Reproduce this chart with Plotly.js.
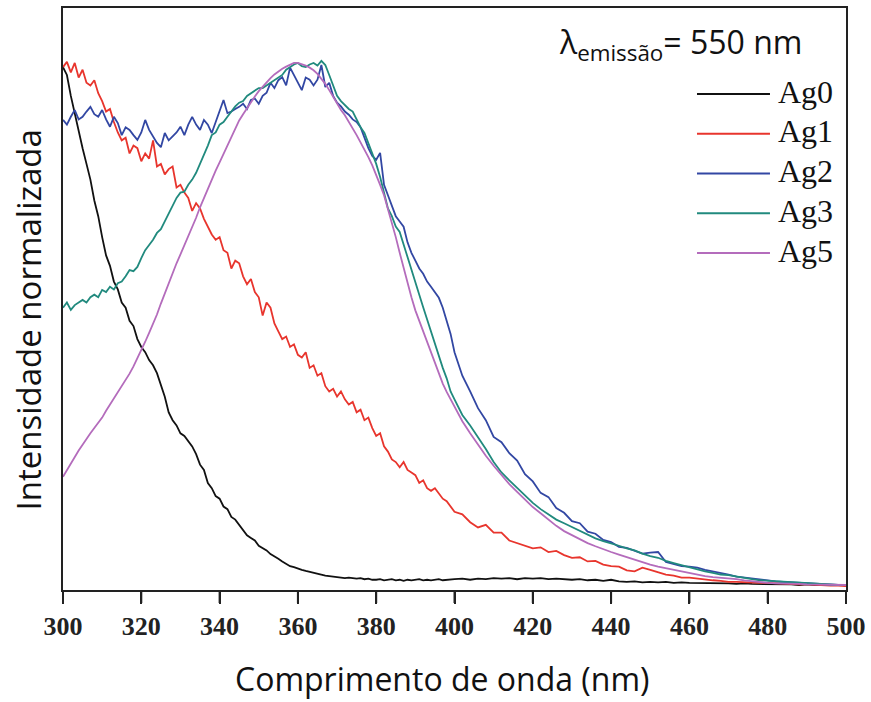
<!DOCTYPE html>
<html>
<head>
<meta charset="utf-8">
<script src="https://cdn.plot.ly/plotly-3.0.1.min.js"></script>
<style>html,body{margin:0;padding:0;background:#fff;}#chart{width:871px;height:702px;}</style>
</head>
<body>
<div id="chart"></div>
<script>
const wavelength = [
300,301,302,303,304,305,306,307,308,309,
310,311,312,313,314,315,316,317,318,319,
320,321,322,323,324,325,326,327,328,329,
330,331,332,333,334,335,336,337,338,339,
340,341,342,343,344,345,346,347,348,349,
350,351,352,353,354,355,356,357,358,359,
360,361,362,363,364,365,366,367,368,369,
370,371,372,373,374,375,376,377,378,379,
380,381,382,383,384,385,386,387,388,389,
390,391,392,393,394,395,396,397,398,399,
400,402,404,406,408,410,412,414,416,418,
420,422,424,426,428,430,432,434,436,438,
440,442,444,446,448,450,452,454,456,458,
460,462,464,466,468,470,472,474,476,478,
480,482,484,486,488,490,492,494,496,498,
500];

const ag0 = [
99.0,97.5,93.5,90.0,86.5,83.5,80.5,77.5,73.5,70.5,
66.5,63.0,61.0,58.0,56.5,54.0,53.0,50.5,49.5,47.0,
45.5,44.5,43.0,42.0,40.5,38.0,36.0,33.0,31.5,30.5,
29.0,28.5,27.5,26.5,25.0,23.0,22.0,19.5,18.5,17.0,
16.5,15.0,14.5,13.0,12.5,11.5,10.5,9.5,9.0,8.5,
7.5,7.0,6.6,5.9,5.5,5.0,4.5,4.1,3.6,3.4,
3.1,2.9,2.7,2.5,2.3,2.2,1.9,1.8,1.7,1.6,
1.5,1.5,1.3,1.4,1.3,1.2,1.3,1.1,1.2,1.0,
1.0,1.1,0.9,1.0,1.1,0.9,1.0,0.8,1.0,0.9,
1.0,1.1,0.9,1.0,0.9,1.0,1.1,0.9,1.0,1.0,
1.1,1.2,1.0,1.2,1.1,1.3,1.2,1.3,1.1,1.3,
1.2,1.3,1.1,1.2,1.1,1.0,1.1,0.9,1.0,0.8,
1.0,0.7,0.6,0.7,0.5,0.6,0.5,0.6,0.4,0.5,
0.4,0.4,0.3,0.4,0.3,0.3,0.2,0.3,0.2,0.2,
0.1,0.2,0.1,0.1,0.0,0.1,0.0,0.0,-0.1,0.0,
0.0];

const ag1 = [
99.0,100.0,98.0,99.8,97.0,98.5,96.0,95.5,96.5,94.0,
92.5,90.5,91.0,88.5,86.5,85.0,85.5,82.5,84.0,83.5,
81.0,82.5,81.5,85.0,80.0,80.5,78.5,79.5,80.0,76.0,
76.5,75.0,74.0,71.5,73.0,72.0,70.0,68.5,67.0,66.0,
66.5,64.0,63.5,60.5,62.0,61.5,59.0,57.5,58.5,56.0,
55.0,51.5,54.0,53.0,50.0,48.5,47.0,47.5,45.5,46.0,
44.0,43.5,44.5,41.5,42.0,40.0,40.5,38.0,37.0,37.5,
36.0,37.0,35.5,34.5,35.0,33.0,33.5,31.5,32.0,30.0,
28.5,29.0,26.5,25.5,24.0,23.5,22.5,23.5,22.0,21.5,
21.0,19.5,20.0,18.5,18.0,18.5,17.5,16.5,16.0,15.0,
14.0,13.5,12.0,11.0,11.5,10.0,10.0,8.5,8.0,7.5,
7.0,7.2,6.3,6.5,5.7,5.2,5.3,4.5,4.6,3.9,
3.6,3.5,2.8,2.6,3.3,2.9,2.5,2.0,1.8,1.4,
1.4,1.2,1.1,0.9,0.8,0.6,0.6,0.5,0.5,0.4,
0.4,0.3,0.3,0.1,0.1,0.1,0.0,0.0,-0.1,-0.1,
-0.2];

const ag2 = [
88.9,88.0,89.5,90.8,89.0,89.5,90.5,91.4,90.0,89.5,
90.8,89.0,87.6,89.5,88.3,86.0,87.5,87.0,86.0,85.1,
86.5,88.9,87.0,85.7,84.5,83.7,86.4,85.0,85.7,86.5,
87.6,86.0,88.0,89.5,88.0,87.0,88.9,88.0,86.4,88.5,
90.5,92.7,90.2,90.5,91.0,91.4,92.0,91.0,92.7,93.0,
92.0,93.5,94.1,96.0,95.0,96.5,97.1,95.5,98.9,97.5,
96.0,94.6,97.0,96.6,95.5,96.6,99.4,95.2,96.0,93.5,
92.2,91.5,90.5,89.9,89.0,88.5,87.5,85.5,83.5,82.0,
81.3,82.6,76.5,74.5,72.5,70.5,69.5,68.5,65.5,63.5,
62.0,60.5,59.5,58.0,57.0,56.0,54.9,53.0,50.7,48.0,
44.5,40.0,37.0,33.8,31.5,28.3,27.3,25.2,23.8,21.2,
19.8,17.6,16.8,14.7,13.8,12.2,11.8,10.2,9.8,8.6,
8.2,7.3,7.1,6.5,6.0,6.2,6.3,4.4,4.0,3.6,
3.5,3.3,2.9,2.6,2.4,2.0,1.6,1.4,1.2,1.0,
0.9,0.7,0.6,0.5,0.4,0.3,0.2,0.2,0.1,0.0,
0.0];

const ag3 = [
53.0,54.0,52.6,53.5,54.0,54.5,54.0,55.0,55.5,55.0,
56.4,56.0,57.0,56.5,57.7,58.0,59.0,60.2,60.0,60.8,
62.5,64.0,65.0,66.0,67.3,68.0,69.5,71.0,72.5,74.0,
75.0,75.2,76.5,77.5,78.8,80.5,82.0,84.0,86.0,86.5,
88.0,88.5,89.5,90.5,91.5,92.2,92.5,93.5,94.0,94.5,
95.0,95.0,95.5,96.0,96.5,97.0,97.5,98.5,99.0,99.5,
99.8,99.2,99.0,99.5,99.8,99.3,100.2,99.4,97.5,95.5,
93.5,92.5,91.8,91.0,90.5,89.0,87.5,86.4,84.5,82.5,
80.5,78.0,75.0,72.0,70.5,68.5,67.5,65.0,62.7,60.5,
57.9,55.5,53.1,50.8,48.4,46.0,43.6,41.5,39.5,37.0,
35.5,32.5,30.5,28.3,26.0,23.5,21.5,20.0,18.5,17.0,
15.7,14.5,13.5,12.5,11.8,11.1,10.3,9.6,8.9,8.4,
8.0,7.5,7.0,6.6,6.0,5.5,5.2,4.6,4.2,3.8,
3.3,2.9,2.6,2.3,2.0,1.9,1.6,1.3,1.1,0.9,
0.8,0.7,0.6,0.5,0.4,0.3,0.2,0.2,0.1,0.0,
0.0];

const ag5 = [
20.7,22.0,23.2,24.5,25.7,26.8,28.0,29.0,30.0,31.0,
32.0,33.3,34.5,35.6,36.7,38.0,39.2,40.4,41.8,43.3,
44.9,46.5,48.2,49.8,51.7,53.8,55.8,57.8,59.7,61.5,
63.2,64.9,66.6,68.3,70.2,72.2,74.0,75.8,77.5,79.2,
80.8,82.4,83.9,85.5,87.3,88.8,90.0,91.2,92.4,93.4,
94.4,95.3,96.2,96.9,97.6,98.2,98.7,99.1,99.5,99.8,
99.8,99.6,99.3,98.9,98.4,97.7,96.8,95.8,94.6,93.3,
92.0,90.8,89.8,88.6,87.3,86.0,84.6,83.3,81.8,80.2,
78.5,76.5,74.5,72.0,69.3,66.5,63.5,60.5,57.5,55.0,
52.5,50.5,48.5,46.3,44.2,42.2,40.3,38.5,36.9,35.5,
34.0,31.3,29.0,26.8,24.7,22.8,21.0,19.3,17.8,16.3,
14.9,13.7,12.5,11.3,10.3,9.5,8.7,8.0,7.4,6.8,
6.3,5.8,5.3,4.8,4.3,3.9,3.5,3.2,2.9,2.6,
2.3,1.9,1.7,1.5,1.4,1.3,1.1,0.9,0.7,0.5,
0.4,0.3,0.3,0.2,0.2,0.1,0.1,0.0,0.0,0.0,
0.0];

const seriesNames = ["Ag0", "Ag1", "Ag2", "Ag3", "Ag5"];
const seriesValues = [ag0, ag1, ag2, ag3, ag5];
const seriesColors = ["#111111", "#e8352d", "#3247a3", "#218a7e", "#b46cbc"];
const xTicks = [300, 320, 340, 360, 380, 400, 420, 440, 460, 480, 500];
const xRange = [300, 500];
const legendTitle = "λ<sub>emissão</sub>= 550 nm";
const xTitle = "Comprimento de onda (nm)";
const yTitle = "Intensidade normalizada";

const traces = seriesNames.map((name, i) => ({
  type: "scatter",
  mode: "lines",
  name: name,
  x: wavelength,
  y: seriesValues[i],
  line: { color: seriesColors[i], width: 1.8 },
  showlegend: false,
  hoverinfo: "skip"
}));

const shapes = [];
const annotations = [];

// tick marks below the frame (same positions as the axis ticks)
const plotH = 702 - 8 - 112;
xTicks.forEach(t => {
  const px = (t - xRange[0]) / (xRange[1] - xRange[0]);
  shapes.push({ type: "line", xref: "paper", yref: "paper", x0: px, x1: px, y0: 0, y1: -13 / plotH,
    line: { color: "#222", width: 2 } });
});

// custom legend (long line samples like the original)
const legX0 = 0.8097, legX1 = 0.9029, legTextX = 0.9106;
const legY0 = 0.8522, legStep = 0.0683;
seriesNames.forEach((name, i) => {
  const yy = legY0 - i * legStep;
  shapes.push({ type: "line", xref: "paper", yref: "paper", x0: legX0, x1: legX1, y0: yy, y1: yy,
    line: { color: seriesColors[i], width: 2.2 } });
  annotations.push({ xref: "paper", yref: "paper", x: legTextX, y: yy + 0.004, xanchor: "left", yanchor: "middle",
    text: name, showarrow: false, font: { family: "Liberation Serif, Times New Roman, serif", size: 32, color: "#111" } });
});
annotations.push({ xref: "paper", yref: "paper", x: 0.631, y: 0.983, xanchor: "left", yanchor: "top",
  text: legendTitle, showarrow: false, font: { family: "Open Sans, sans-serif", size: 32, color: "#111" } });
// axis titles placed as in the original
annotations.push({ xref: "paper", yref: "paper", x: 0.484, y: -0.152, xanchor: "center", yanchor: "middle",
  text: xTitle, showarrow: false, font: { family: "Open Sans, sans-serif", size: 32, color: "#111" } });
annotations.push({ xref: "paper", yref: "paper", x: -0.044, y: 0.464, xanchor: "center", yanchor: "middle",
  textangle: -90, text: yTitle, showarrow: false, font: { family: "Open Sans, sans-serif", size: 33, color: "#111" } });

const layout = {
  width: 871, height: 702,
  margin: { l: 63, r: 25, t: 8, b: 112 },
  paper_bgcolor: "#ffffff", plot_bgcolor: "#ffffff",
  showlegend: false,
  xaxis: {
    range: xRange, tickvals: xTicks, ticktext: xTicks.map(String),
    ticks: "outside", ticklen: 12, tickwidth: 2, tickcolor: "#222",
    showline: true, linecolor: "#222", linewidth: 2, mirror: true,
    showgrid: false, zeroline: false,
    tickfont: { family: "Liberation Serif, Times New Roman, serif", size: 26, color: "#222", weight: "bold" },
    automargin: false
  },
  yaxis: {
    range: [-0.96, 110.3],
    showticklabels: false, ticks: "",
    showline: true, linecolor: "#222", linewidth: 2, mirror: true,
    showgrid: false, zeroline: false,
    automargin: false
  },
  shapes: shapes,
  annotations: annotations
};

Plotly.newPlot("chart", traces, layout, { displayModeBar: false, staticPlot: true });
</script>
</body>
</html>
